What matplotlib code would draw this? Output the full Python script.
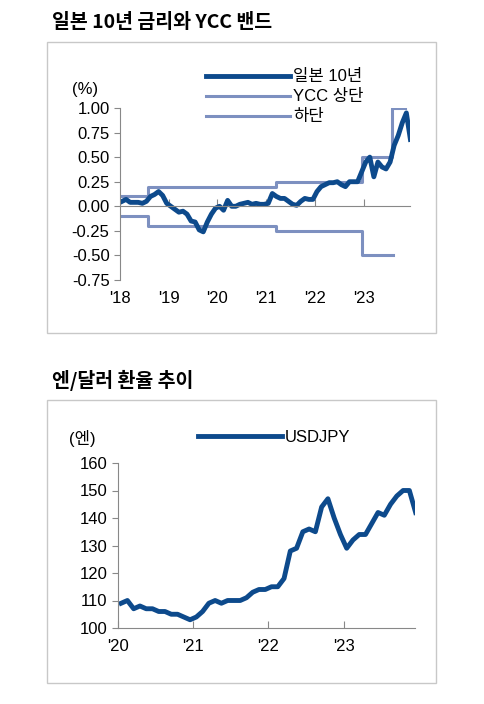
import matplotlib
matplotlib.use('Agg')
import matplotlib.pyplot as plt
from matplotlib.patches import Rectangle

plt.rcParams['font.family'] = ['Liberation Sans', 'Noto Sans CJK KR']

# 일본 10년 금리 (monthly, 2018-01 ~ 2023-12)
jgb = [0.05, 0.07, 0.04, 0.04, 0.04, 0.03, 0.05, 0.10, 0.12, 0.15, 0.11, 0.03,
       0.00, -0.03, -0.06, -0.05, -0.08, -0.15, -0.16, -0.24, -0.26, -0.16, -0.08, -0.02,
       0.00, -0.04, 0.06, 0.00, 0.00, 0.02, 0.03, 0.04, 0.02, 0.03, 0.02, 0.02,
       0.03, 0.13, 0.10, 0.08, 0.08, 0.05, 0.02, 0.01, 0.05, 0.08, 0.07, 0.07,
       0.15, 0.20, 0.22, 0.24, 0.24, 0.25, 0.22, 0.20, 0.25, 0.25, 0.25, 0.35,
       0.45, 0.50, 0.30, 0.45, 0.40, 0.38, 0.45, 0.62, 0.72, 0.85, 0.95, 0.68]
jgb_t = [2018 + (i + 0.5) / 12 for i in range(len(jgb))]

# YCC 밴드 (변경 시점)
band_t = [2018.0, 2018.58, 2021.2, 2022.97, 2023.58, 2023.85]
upper = [0.10, 0.20, 0.25, 0.50, 1.00, 1.00]
lower_t = [2018.0, 2018.58, 2021.2, 2022.97, 2023.6]
lower = [-0.10, -0.20, -0.25, -0.50, -0.50]

# USDJPY (monthly, 2020-01 ~ 2023-12)
usdjpy = [109, 110, 107, 108, 107, 107, 106, 106, 105, 105, 104, 103,
          104, 106, 109, 110, 109, 110, 110, 110, 111, 113, 114, 114,
          115, 115, 118, 128, 129, 135, 136, 135, 144, 147, 140, 134,
          129, 132, 134, 134, 138, 142, 141, 145, 148, 150, 150, 142]
fx_t = [2020 + (i + 0.5) / 12 for i in range(len(usdjpy))]

dark = '#0d4a8c'
light = '#7d90c0'
W, H = 484, 704
fig = plt.figure(figsize=(W / 100, H / 100), dpi=100)

for y0, y1 in [(42, 333), (400, 683)]:
    fig.patches.append(Rectangle((47 / W, 1 - y1 / H), 389 / W, (y1 - y0) / H,
                                 transform=fig.transFigure, fill=False,
                                 edgecolor='#c8c8c8', lw=1))

fig.text(52 / W, 1 - 22 / H, '일본 10년 금리와 YCC 밴드', fontsize=14, fontweight='bold',
         va='center', family=['Noto Sans CJK KR'])
fig.text(52 / W, 1 - 380 / H, '엔/달러 환율 추이', fontsize=14, fontweight='bold',
         va='center', family=['Noto Sans CJK KR'])

# 상단 차트
ax = fig.add_axes([120 / W, 1 - 280 / H, 290 / W, 172 / H])
ax.step(band_t, upper, where='post', color=light, lw=2.2, label='YCC 상단')
ax.step(lower_t, lower, where='post', color=light, lw=2.2, label='하단')
ax.plot(jgb_t, jgb, color=dark, lw=3.5, label='일본 10년')
ax.set_xlim(2018, 2023.95)
ax.set_ylim(-0.75, 1.0)
ax.set_yticks([1.0, 0.75, 0.5, 0.25, 0.0, -0.25, -0.5, -0.75])
ax.set_yticklabels(['%.2f' % v for v in ax.get_yticks()], fontsize=12)
ax.spines['top'].set_visible(False)
ax.spines['right'].set_visible(False)
ax.spines['bottom'].set_position(('data', 0))
for s in ['left', 'bottom']:
    ax.spines[s].set_color('#888888')
ax.set_xticks(range(2019, 2024))
ax.tick_params(axis='x', direction='in', length=5, labelbottom=False, color='#888888')
ax.tick_params(axis='y', length=4, color='#888888')
for yr in range(2018, 2024):
    ax.text(yr, -0.94, "'%d" % (yr - 2000), ha='center', va='center', fontsize=12)
ax.text(-0.12, 1.11, '(%)', transform=ax.transAxes, ha='center', va='center', fontsize=12)
h, l = ax.get_legend_handles_labels()
ax.legend([h[2], h[0], h[1]], [l[2], l[0], l[1]], loc='center left',
          bbox_to_anchor=(198 / W, 1 - 97 / H), bbox_transform=fig.transFigure,
          frameon=False, fontsize=12, handlelength=5, labelspacing=0.3,
          handletextpad=0.2, borderpad=0)

# 하단 차트
ax2 = fig.add_axes([118 / W, 1 - 628 / H, 297 / W, 165 / H])
ax2.plot(fx_t, usdjpy, color=dark, lw=3.5, label='USDJPY')
ax2.set_xlim(2020, 2023.95)
ax2.set_ylim(100, 160)
ax2.set_yticks(range(100, 161, 10))
ax2.tick_params(axis='y', labelsize=12, length=4, color='#888888')
ax2.set_xticks(range(2020, 2024))
ax2.set_xticklabels(["'20", "'21", "'22", "'23"], fontsize=12)
ax2.tick_params(axis='x', direction='in', length=5, pad=8, color='#888888')
ax2.spines['top'].set_visible(False)
ax2.spines['right'].set_visible(False)
for s in ['left', 'bottom']:
    ax2.spines[s].set_color('#888888')
ax2.text(-0.12, 1.15, '(엔)', transform=ax2.transAxes, ha='center', va='center', fontsize=12)
ax2.legend(loc='center left', bbox_to_anchor=(190 / W, 1 - 437 / H), bbox_transform=fig.transFigure,
           frameon=False, fontsize=12, handlelength=5, handletextpad=0.2, borderpad=0)

fig.savefig('out.png', dpi=100)
